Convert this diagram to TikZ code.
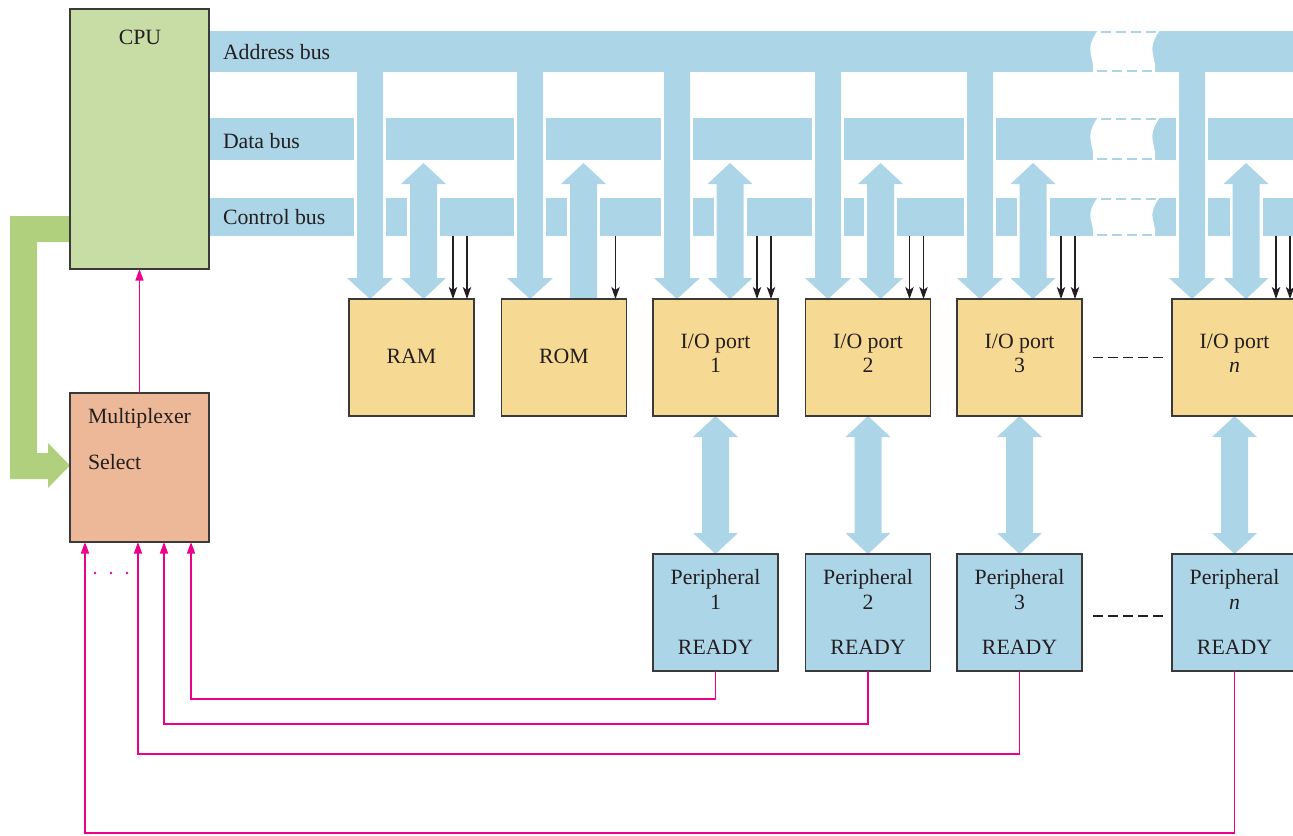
\documentclass[tikz,border=0pt]{standalone}
\usepackage{fontspec}
\setmainfont{Liberation Serif}
\usetikzlibrary{arrows.meta}
\definecolor{busblue}{HTML}{ACD5E8}
\definecolor{ioyel}{HTML}{F6D993}
\definecolor{cpugreen}{HTML}{C8DDA6}
\definecolor{muxcol}{HTML}{EDB897}
\definecolor{grarrow}{HTML}{B0D07D}
\definecolor{pinkc}{HTML}{EC008C}
\definecolor{boxline}{HTML}{3A3A3A}
\definecolor{textcol}{HTML}{231F20}
% block arrows (pixel coordinates, y downwards)
\newcommand\addrarrow[1]{\fill[busblue] (#1-13,70) -- (#1+13,70) -- (#1+13,278) -- (#1+23,278) -- (#1,299) -- (#1-23,278) -- (#1-13,278) -- cycle;}
\newcommand\bidirarrow[1]{\fill[busblue] (#1,163) -- (#1+22.5,184) -- (#1+13.5,184) -- (#1+13.5,278) -- (#1+22.5,278) -- (#1,299) -- (#1-22.5,278) -- (#1-13.5,278) -- (#1-13.5,184) -- (#1-22.5,184) -- cycle;}
\newcommand\uparr[1]{\fill[busblue] (#1,163) -- (#1+22.5,184) -- (#1+13.5,184) -- (#1+13.5,299) -- (#1-13.5,299) -- (#1-13.5,184) -- (#1-22.5,184) -- cycle;}
\newcommand\iobidir[1]{\fill[busblue] (#1,416) -- (#1+22.5,437) -- (#1+13.5,437) -- (#1+13.5,533) -- (#1+22.5,533) -- (#1,554) -- (#1-22.5,533) -- (#1-13.5,533) -- (#1-13.5,437) -- (#1-22.5,437) -- cycle;}
\newcommand\addrgap[1]{\fill[white] (#1-16,72) rectangle (#1+16,240);}
\newcommand\ctlgap[1]{\fill[white] (#1-16.5,196) rectangle (#1+16.5,238);}
\begin{document}
\begin{tikzpicture}[x=0.5pt,y=-0.5pt,
  font=\fontsize{10.9pt}{12.5pt}\selectfont, text=textcol,
  box/.style={draw=boxline, line width=0.8pt, inner sep=0pt, outer sep=0pt, minimum width=62.5pt, minimum height=58.5pt},
  iobox/.style={box, fill=ioyel},
  perbox/.style={box, fill=busblue},
  lbl/.style={inner sep=0pt, outer sep=0pt},
  rdy/.style={draw=pinkc, line width=0.8pt, -{Triangle[length=5.8pt,width=4pt]}},
  ctl/.style={draw=textcol, line width=0.65pt, -{Stealth[length=6pt,width=4.2pt,inset=1.5pt]}},
  sepdash/.style={draw=textcol, line width=0.7pt, dash pattern=on 5pt off 2.5pt},
]
\useasboundingbox (0,0) rectangle (1293,835);
\clip (0,0) rectangle (1293,835);

% green select path
\fill[grarrow] (75,216) -- (10,216) -- (10,479) -- (48,479) -- (48,488) -- (70,465.5) -- (48,443) -- (48,453) -- (37,453) -- (37,242) -- (75,242) -- cycle;

% buses
\fill[busblue] (209,31) rectangle (1300,72);
\fill[busblue] (209,118) rectangle (1300,160);
\fill[busblue] (209,198) rectangle (1300,236);

% gaps
\foreach \x in {370,530,677,828,980,1192} {\addrgap{\x}}
\foreach \x in {423.5,583.5,730,880.5,1033,1246} {\ctlgap{\x}}

% vertical block arrows
\foreach \x in {370,530,677,828,980,1192} {\addrarrow{\x}}
\foreach \x in {423.5,730,880.5,1033,1246} {\bidirarrow{\x}}
\uparr{583.5}
\foreach \x in {715.5,868,1019.5,1234.5} {\iobidir{\x}}

% bus breaks
\foreach \t/\b in {31/72,118/160,198/236} {
  \fill[white] (1098,\t-1) .. controls (1083,{\t+0.5*(\b-\t)}) and (1095,{\t+0.6*(\b-\t)}) .. (1093,\b+1)
     -- (1155,\b+1) .. controls (1157,{\t+0.6*(\b-\t)}) and (1145,{\t+0.5*(\b-\t)}) .. (1160,\t-1) -- cycle;
  \draw[busblue, line width=1pt, dash pattern=on 5pt off 2.5pt] (1101,\t+1) -- (1158,\t+1);
  \draw[busblue, line width=1pt, dash pattern=on 5pt off 2.5pt] (1097,\b-1) -- (1155,\b-1);
}

% bus labels
\node[lbl, anchor=base west] at (223,59.5) {Address bus};
\node[lbl, anchor=base west] at (223,148.5) {Data bus};
\node[lbl, anchor=base west] at (223,224.5) {Control bus};

% CPU and multiplexer
\node[box, fill=cpugreen, minimum width=69.5pt, minimum height=130pt] (cpu) at (139.5,139) {};
\node[lbl, anchor=base] at (140,44.5) {CPU};
\node[box, fill=muxcol, minimum width=69.5pt, minimum height=74.5pt] (mux) at (139.5,467.5) {};
\node[lbl, anchor=base west] at (88,423.5) {Multiplexer};
\node[lbl, anchor=base west] at (88,469.5) {Select};

% memories
\node[iobox] (ram) at (411.5,357.5) {};
\node[lbl, anchor=base] at (411.5,363.5) {RAM};
\node[iobox] (rom) at (564,357.5) {};
\node[lbl, anchor=base] at (564,363.5) {ROM};

% I/O ports and peripherals
\foreach \nm/\pn/\x/\lab in {io1/p1/715.5/1, io2/p2/868/2, io3/p3/1019.5/3, ion/pn/1234.5/\textit{n}} {
  \node[iobox] (\nm) at (\x,357.5) {};
  \node[lbl, anchor=base] at (\x,348.5) {I/O port};
  \node[lbl, anchor=base] at (\x,372.5) {\lab};
  \node[perbox] (\pn) at (\x,612.5) {};
  \node[lbl, anchor=base] at (\x,584.5) {Peripheral};
  \node[lbl, anchor=base] at (\x,609) {\lab};
  \node[lbl, anchor=base] at (\x,654.5) {READY};
}

% control lines
\foreach \b in {ram,io1,io2,io3,ion} {
  \foreach \s in {52pt,59pt} {\draw[ctl] ([xshift=\s]\b.north west) ++(0,-63) -- ++(0,63);}
}
\draw[ctl] ([xshift=57pt]rom.north west) ++(0,-63) -- ++(0,63);

% dashed separators
\draw[sepdash] ([xshift=5.5pt]io3.east) -- ([xshift=-4.5pt]ion.west);
\draw[sepdash] ([xshift=5.5pt,yshift=-1.75pt]p3.east) -- ([xshift=-4.5pt,yshift=-1.75pt]pn.west);

% READY lines and interrupt
\draw[rdy] (mux.north) -- (cpu.south);
\draw[rdy] (p1.south) -- ++(0,28) -| ([xshift=60.5pt]mux.south west);
\draw[rdy] (p2.south) -- ++(0,53) -| ([xshift=47pt]mux.south west);
\draw[rdy] (p3.south) -- ++(0,83) -| ([xshift=34pt]mux.south west);
\draw[rdy] (pn.south) -- ++(0,162) -| ([xshift=7.5pt]mux.south west);
\foreach \x in {95,111,127} {\fill[pinkc] (\x,573) circle (0.7pt);}
\end{tikzpicture}
\end{document}
